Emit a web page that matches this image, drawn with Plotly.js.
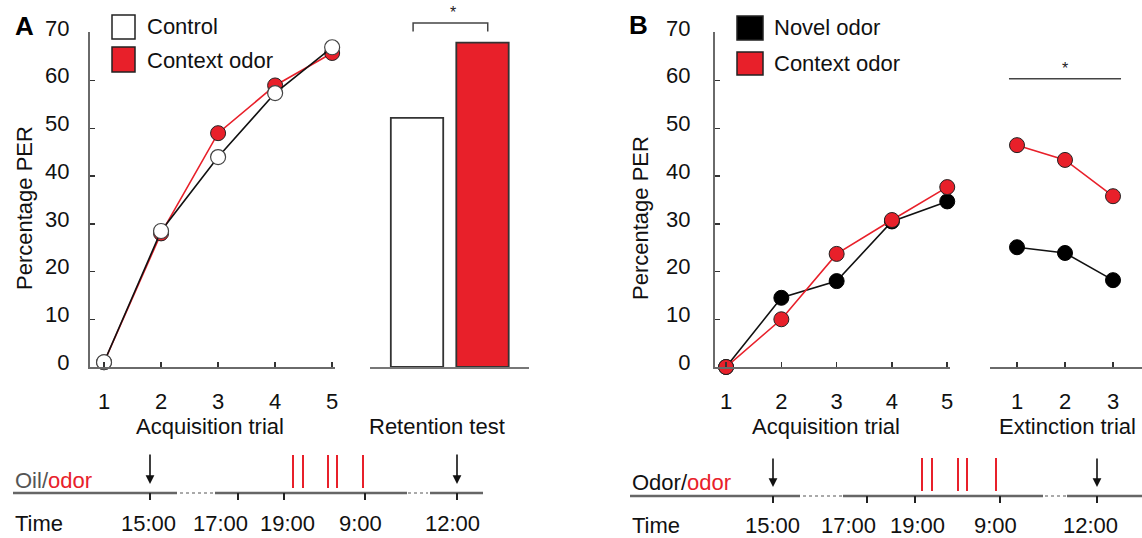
<!DOCTYPE html>
<html>
<head>
<meta charset="utf-8">
<script src="https://cdn.plot.ly/plotly-3.0.1.min.js"></script>
<style>html,body{margin:0;padding:0;background:#fff;}#chart{width:1142px;height:538px;}</style>
</head>
<body>
<div id="chart"></div>
<script>
// ---------- data ----------
const trials = [1, 2, 3, 4, 5];
const controlA = [1, 28.5, 44, 57.4, 67];
const contextA = [1, 28, 49, 59, 65.8];
const retentionGroups = [0, 1]; // Control, Context odor
const retentionValues = [52.2, 68];
const novelAcqB = [0, 14.5, 18, 30.5, 34.7];
const contextAcqB = [0, 10, 23.7, 30.8, 37.7];
const extTrials = [1, 2, 3];
const novelExtB = [25.1, 23.9, 18.2];
const contextExtB = [46.5, 43.4, 35.8];
const yTicks = [0, 10, 20, 30, 40, 50, 60, 70];
const timeLabels = ['15:00', '17:00', '19:00', '9:00', '12:00'];

// timeline schematic (page units)
const tlA = {y: 493, solid: [[13,177],[215,407],[430,483]], dotted: [[180,213],[408,428]],
  ticks: [150,238,284,365,457], arrows: [150,457], stims: [293,303,328,337,363],
  stimTop: 455, stimBot: 488, arrowTop: 453, arrowTip: 484,
  labelX: [148,220,287,360,452], labelY: 523, rowX: 13, rowY: 480,
  rowText: '<span style="color:#555">Oil/</span><span style="color:#e8202a">odor</span>'};
const tlB = {y: 496, solid: [[630,800],[843,1043],[1067,1142]], dotted: [[803,843],[1045,1067]],
  ticks: [773,867,915,1000,1097], arrows: [773,1097], stims: [922,932,958,967,996],
  stimTop: 458, stimBot: 491, arrowTop: 457, arrowTip: 487,
  labelX: [772,848,917,995,1090], labelY: 525, rowX: 630, rowY: 482,
  rowText: '<span style="color:#111">Odor/</span><span style="color:#e8202a">odor</span>'};

// ---------- helpers ----------
const W = 1142, H = 538;
const px = v => v / W;
const py = v => 1 - v / H;
const RED = '#e8202a';
const AX = '#6a6a6a';
const FONT = 'Liberation Sans, Arial, sans-serif';
const FS = 22;
const yDom = [py(367), py(32)];

const traces = [];
// Panel A acquisition
traces.push({x: trials, y: contextA, xaxis: 'x', yaxis: 'y', mode: 'lines+markers', cliponaxis: false,
  line: {color: RED, width: 1.6}, marker: {color: RED, size: 15, line: {color: '#222', width: 1}}, hoverinfo: 'skip'});
traces.push({x: trials, y: controlA, xaxis: 'x', yaxis: 'y', mode: 'lines+markers', cliponaxis: false,
  line: {color: '#111', width: 1.6}, marker: {color: '#fff', size: 15, line: {color: '#444', width: 1.2}}, hoverinfo: 'skip'});
// Panel A retention bars
traces.push({type: 'bar', x: retentionGroups, y: retentionValues, xaxis: 'x2', yaxis: 'y2', width: 0.8,
  marker: {color: ['#ffffff', RED], line: {color: '#333', width: 1.8}}, hoverinfo: 'skip'});
// Panel B acquisition
traces.push({x: trials, y: novelAcqB, xaxis: 'x3', yaxis: 'y3', mode: 'lines+markers', cliponaxis: false,
  line: {color: '#111', width: 1.6}, marker: {color: '#000', size: 15, line: {color: '#000', width: 1}}, hoverinfo: 'skip'});
traces.push({x: trials, y: contextAcqB, xaxis: 'x3', yaxis: 'y3', mode: 'lines+markers', cliponaxis: false,
  line: {color: RED, width: 1.6}, marker: {color: RED, size: 15, line: {color: '#222', width: 1}}, hoverinfo: 'skip'});
// Panel B extinction
traces.push({x: extTrials, y: novelExtB, xaxis: 'x4', yaxis: 'y4', mode: 'lines+markers', cliponaxis: false,
  line: {color: '#111', width: 1.6}, marker: {color: '#000', size: 15, line: {color: '#000', width: 1}}, hoverinfo: 'skip'});
traces.push({x: extTrials, y: contextExtB, xaxis: 'x4', yaxis: 'y4', mode: 'lines+markers', cliponaxis: false,
  line: {color: RED, width: 1.6}, marker: {color: RED, size: 15, line: {color: '#222', width: 1}}, hoverinfo: 'skip'});

// Timelines
const annotations = [];
function timeline(tl) {
  const sx = [], sy = [], dx = [], dy = [], tx = [], ty = [], rx = [], ry = [];
  tl.solid.forEach(s => { sx.push(s[0], s[1], null); sy.push(tl.y, tl.y, null); });
  tl.dotted.forEach(s => { dx.push(s[0], s[1], null); dy.push(tl.y, tl.y, null); });
  tl.ticks.forEach(t => { tx.push(t, t, null); ty.push(tl.y, tl.y + 7, null); });
  tl.stims.forEach(t => { rx.push(t, t, null); ry.push(tl.stimTop, tl.stimBot, null); });
  traces.push({x: sx, y: sy, xaxis: 'x5', yaxis: 'y5', mode: 'lines', line: {color: '#666', width: 2.6}, hoverinfo: 'skip', cliponaxis: false});
  traces.push({x: dx, y: dy, xaxis: 'x5', yaxis: 'y5', mode: 'lines', line: {color: '#aaa', width: 2, dash: 'dot'}, hoverinfo: 'skip', cliponaxis: false});
  traces.push({x: tx, y: ty, xaxis: 'x5', yaxis: 'y5', mode: 'lines', line: {color: '#222', width: 2}, hoverinfo: 'skip', cliponaxis: false});
  traces.push({x: rx, y: ry, xaxis: 'x5', yaxis: 'y5', mode: 'lines', line: {color: RED, width: 2}, hoverinfo: 'skip', cliponaxis: false});
  tl.arrows.forEach(a => annotations.push({xref: 'x5', yref: 'y5', axref: 'x5', ayref: 'y5', x: a, y: tl.arrowTip,
    ax: a, ay: tl.arrowTop, text: '', showarrow: true, arrowhead: 2, arrowsize: 1.1, arrowwidth: 1.6, arrowcolor: '#111'}));
  tl.labelX.forEach((x, i) => annotations.push({xref: 'x5', yref: 'y5', x: x, y: tl.labelY, text: timeLabels[i],
    showarrow: false, xanchor: 'center', yanchor: 'middle', font: {size: FS, color: '#111', family: FONT}}));
  annotations.push({xref: 'x5', yref: 'y5', x: tl.rowX, y: tl.labelY, text: 'Time', showarrow: false,
    xanchor: 'left', yanchor: 'middle', font: {size: FS, color: '#111', family: FONT}});
  annotations.push({xref: 'x5', yref: 'y5', x: tl.rowX, y: tl.rowY, text: tl.rowText, showarrow: false,
    xanchor: 'left', yanchor: 'middle', font: {size: FS, color: '#111', family: FONT}});
}
timeline(tlA);
timeline(tlB);

// text labels
function txt(x, y, text, opts) {
  annotations.push(Object.assign({xref: 'paper', yref: 'paper', x: px(x), y: py(y), text: text, showarrow: false,
    xanchor: 'center', yanchor: 'middle', font: {size: FS, color: '#111', family: FONT}}, opts || {}));
}
txt(24, 26, '<b>A</b>', {font: {size: 26, color: '#000', family: FONT}});
txt(638, 25, '<b>B</b>', {font: {size: 26, color: '#000', family: FONT}});
txt(24, 208, 'Percentage PER', {textangle: -90});
txt(641, 218, 'Percentage PER', {textangle: -90});
txt(210, 426, 'Acquisition trial');
txt(437, 427, 'Retention test');
txt(826, 426, 'Acquisition trial');
txt(997, 426, 'Extinction trial', {xanchor: 'left'});
// legends
txt(145, 27, 'Control', {xanchor: 'left'});
txt(145, 60, 'Context odor', {xanchor: 'left'});
txt(772, 28, 'Novel odor', {xanchor: 'left'});
txt(772, 64, 'Context odor', {xanchor: 'left'});
// significance stars
annotations.push({xref: 'x2', yref: 'y2', x: 0.55, y: 74.3, text: '*', showarrow: false, font: {size: 16, color: '#222', family: FONT}});
annotations.push({xref: 'x4', yref: 'y4', x: 2.0, y: 62.6, text: '*', showarrow: false, font: {size: 16, color: '#222', family: FONT}});

const shapes = [
  // legend swatches
  {type: 'rect', xref: 'paper', yref: 'paper', x0: px(112), x1: px(135), y0: py(15), y1: py(39), fillcolor: '#fff', line: {color: '#222', width: 1.5}},
  {type: 'rect', xref: 'paper', yref: 'paper', x0: px(112), x1: px(135), y0: py(47), y1: py(72), fillcolor: RED, line: {color: '#222', width: 1.5}},
  {type: 'rect', xref: 'paper', yref: 'paper', x0: px(737), x1: px(763), y0: py(16), y1: py(40), fillcolor: '#000', line: {color: '#222', width: 1.5}},
  {type: 'rect', xref: 'paper', yref: 'paper', x0: px(737), x1: px(763), y0: py(52), y1: py(75), fillcolor: RED, line: {color: '#222', width: 1.5}},
  // significance bracket A
  {type: 'path', xref: 'x2', yref: 'y2', path: 'M -0.06,70.3 L -0.06,72.1 L 1.08,72.1 L 1.08,70.3', line: {color: '#444', width: 1.5}},
  // significance line B
  {type: 'line', xref: 'x4', yref: 'y4', x0: 0.833, x1: 3.167, y0: 60.4, y1: 60.4, line: {color: '#444', width: 1.5}}
];

const baseAxis = {showline: true, linecolor: AX, linewidth: 2, ticks: 'inside', ticklen: 5, tickwidth: 1.5, tickcolor: '#333',
  showgrid: false, zeroline: false, tickfont: {size: FS, color: '#111', family: FONT}, fixedrange: true};

const layout = {
  width: W, height: H, margin: {l: 0, r: 0, t: 0, b: 0}, showlegend: false,
  paper_bgcolor: '#fff', plot_bgcolor: 'rgba(0,0,0,0)', font: {family: FONT, color: '#111'},
  xaxis: Object.assign({}, baseAxis, {domain: [px(90), px(335)], range: [0.754, 5.05], anchor: 'y', tickvals: trials, ticklabelstandoff: 14}),
  yaxis: Object.assign({}, baseAxis, {domain: yDom, range: [0, 70.2], anchor: 'x', tickvals: yTicks, ticklabelstandoff: 14, ticklabelshift: -5}),
  xaxis2: {domain: [px(370), px(529)], range: [-0.718, 1.71], anchor: 'y2', showline: true, linecolor: '#777', linewidth: 2,
    showticklabels: false, ticks: '', showgrid: false, zeroline: false, fixedrange: true},
  yaxis2: {domain: [py(367), 1], range: [0, 76.92], anchor: 'x2', visible: false, fixedrange: true},
  xaxis3: Object.assign({}, baseAxis, {domain: [px(715), px(950)], range: [0.80, 5.05], anchor: 'y3', tickvals: trials, ticklabelstandoff: 14}),
  yaxis3: Object.assign({}, baseAxis, {domain: yDom, range: [0, 70.2], anchor: 'x3', tickvals: yTicks, ticklabelstandoff: 18, ticklabelshift: -5}),
  xaxis4: Object.assign({}, baseAxis, {domain: [px(990), 1], range: [0.4375, 3.604], anchor: 'y4', tickvals: extTrials, ticklabelstandoff: 14}),
  yaxis4: {domain: [py(367), 1], range: [0, 76.92], anchor: 'x4', visible: false, fixedrange: true},
  xaxis5: {domain: [0, 1], range: [0, W], anchor: 'y5', visible: false, fixedrange: true},
  yaxis5: {domain: [0, 1], range: [H, 0], anchor: 'x5', visible: false, fixedrange: true},
  annotations: annotations,
  shapes: shapes
};

Plotly.newPlot('chart', traces, layout, {staticPlot: true, displayModeBar: false});
</script>
</body>
</html>
